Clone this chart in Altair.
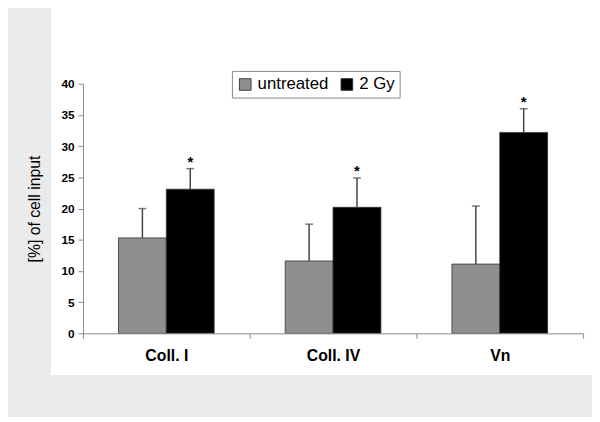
import altair as alt
import pandas as pd

categories = ["Coll. I", "Coll. IV", "Vn"]
groups = ["untreated", "2 Gy"]
untreated = [15.3, 11.6, 11.1]
untreated_err = [20.0, 17.5, 20.4]
gy2 = [23.1, 20.2, 32.2]
gy2_err = [26.4, 24.9, 36.0]
stars = ["", "", ""]
gy2_stars = ["*", "*", "*"]
y_ticks = [0, 5, 10, 15, 20, 25, 30, 35, 40]

rows = []
for i, c in enumerate(categories):
    rows.append({"cat": c, "grp": groups[0], "val": untreated[i], "err": untreated_err[i], "star": stars[i]})
    rows.append({"cat": c, "grp": groups[1], "val": gy2[i], "err": gy2_err[i], "star": gy2_stars[i]})
df = pd.DataFrame(rows)

FONT = "Liberation Sans"

x_axis = alt.Axis(labelAngle=0, labelFont=FONT, labelFontSize=16, labelFontWeight="bold",
                  labelColor="black", tickBand="extent", tickSize=5, tickColor="#888",
                  domainColor="#888", labelPadding=10, grid=False, zindex=1)
y_axis = alt.Axis(values=y_ticks, labelOverlap=False, labelFont=FONT, labelFontSize=12,
                  labelFontWeight="bold", labelColor="black", tickSize=5, tickColor="#888",
                  domainColor="#888", labelPadding=4, grid=False, titleFont=FONT,
                  titleFontSize=16, titleFontWeight="normal", titleColor="black",
                  titlePadding=19, zindex=1)
x_scale = alt.Scale(paddingInner=0, paddingOuter=0)
y_scale = alt.Scale(domain=[0, 40], nice=False)
YT = "[%] of cell input"

def X():
    return alt.X("cat:N", sort=categories, title=None, scale=x_scale, axis=x_axis)

def XO():
    return alt.XOffset("grp:N", sort=groups, scale=alt.Scale(paddingInner=0, paddingOuter=0.742))

def Y(field):
    return alt.Y(field, title=YT, scale=y_scale, axis=y_axis)

panel = alt.Chart(df).mark_rect(color="white").encode(
    x=alt.value(-32), x2=alt.value(516), y=alt.value(-82), y2=alt.value(295))

bars = alt.Chart(df).mark_bar(stroke="#333", strokeWidth=0.8).encode(
    x=X(), xOffset=XO(), y=Y("val:Q"),
    color=alt.Color("grp:N", sort=groups,
                    scale=alt.Scale(domain=groups, range=["#8f8f8f", "#000000"]),
                    legend=alt.Legend(title=None, orient="none", legendX=151, legendY=-13,
                                      direction="horizontal", symbolType="square",
                                      symbolSize=140, symbolStrokeColor="#222",
                                      symbolStrokeWidth=0.8, labelFont=FONT, labelFontSize=17,
                                      labelColor="black", strokeColor="#888", fillColor="white",
                                      padding=5, columnPadding=10, labelOffset=4, zindex=1)))

rules = alt.Chart(df).mark_rule(color="#444", strokeWidth=1.5).encode(
    x=X(), xOffset=XO(), y=Y("val:Q"), y2="err:Q")

caps = alt.Chart(df).mark_tick(color="#444", thickness=1.5, size=8, orient="horizontal").encode(
    x=X(), xOffset=XO(), y=Y("err:Q"))

star_text = alt.Chart(df).mark_text(font=FONT, fontSize=15, fontWeight="bold", baseline="bottom",
                                    dy=1, color="black").encode(
    x=X(), xOffset=XO(), y=Y("err:Q"), text="star:N")

chart = alt.layer(panel, bars, rules, caps, star_text).properties(
    width=507, height=253,
    autosize=alt.AutoSizeParams(type="none"),
    padding={"left": 76, "top": 74, "right": 9, "bottom": 82},
    background="#ebebeb",
).configure_view(stroke=None)

chart.save("out.html", embed_options={"renderer": "svg", "actions": False})
